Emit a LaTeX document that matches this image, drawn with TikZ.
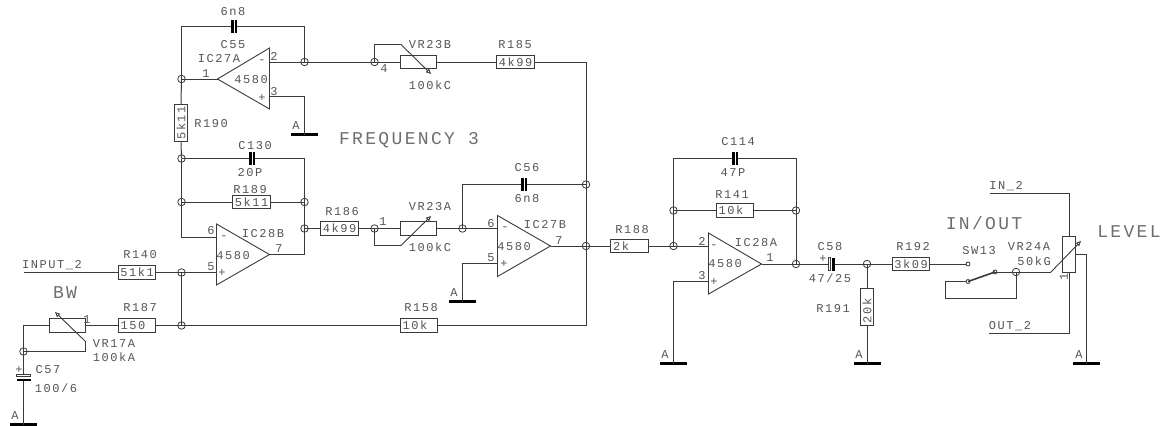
\documentclass[tikz,border=0pt]{standalone}
\usepackage{fontspec}
\usetikzlibrary{arrows.meta}
\setmainfont[LetterSpace=13]{Liberation Mono}
\definecolor{wirec}{HTML}{3A3A3A}
\definecolor{textc}{HTML}{555555}
\definecolor{bigc}{HTML}{6E6E6E}
\newcommand{\lbltxt}[1]{\makebox[35pt][l]{\hspace{1pt}#1}}
\tikzset{
  w/.style={line width=1pt,color=wirec},
  lab/.style={inner sep=0pt,text=textc,font=\fontsize{12}{12}\selectfont},
  big/.style={inner sep=0pt,text=bigc,font=\fontsize{18}{18}\selectfont},
  junc/.style={circle,draw=wirec,line width=.8pt,minimum size=7.5pt,inner sep=0pt},
  tiny/.style={circle,draw=wirec,line width=.8pt,minimum size=4pt,inner sep=0pt},
  res/.style={rectangle,draw=wirec,line width=1pt,fill=white,minimum width=37.5pt,minimum height=13.5pt,inner sep=0pt,text=textc,font=\fontsize{12}{12}\selectfont},
  capv/.style={rectangle,fill=black,minimum width=6.5pt,minimum height=13pt,inner sep=0pt,
     path picture={\draw[white,line width=.9pt] (path picture bounding box.north) -- (path picture bounding box.south);}},
  gndbar/.style={rectangle,fill=black,minimum width=27pt,minimum height=2.2pt,inner sep=0pt},
  amp/.style={line width=.9pt,color=wirec,line join=miter},
  wiper/.style={w,line width=.9pt,-{Triangle[open,length=5pt,width=4.5pt]}},
  plate/.style={rectangle,draw=wirec,fill=white,line width=.7pt,inner sep=0pt},
  blk/.style={rectangle,fill=black,inner sep=0pt}
}
\begin{document}
\begin{tikzpicture}[x=1pt,y=-1pt]
\useasboundingbox (0,0) rectangle (1163,426);
% junctions
\node[junc] (j1) at (181.5,79) {};
\node[junc] (j2) at (304.5,62) {};
\node[junc] (j3) at (374.5,62) {};
\node[junc] (j4) at (181.5,158.5) {};
\node[junc] (j5) at (181.5,202) {};
\node[junc] (j6) at (304.5,202) {};
\node[junc] (j7) at (304.5,228.5) {};
\node[junc] (j8) at (374.5,228.5) {};
\node[junc] (j9) at (462.5,228.5) {};
\node[junc] (j10) at (586,184.5) {};
\node[junc] (j11) at (586,246) {};
\node[junc] (j12) at (181.5,272.5) {};
\node[junc] (j13) at (181.5,325.5) {};
\node[junc] (j14) at (23.5,351.5) {};
\node[junc] (j15) at (673.5,246) {};
\node[junc] (j16) at (673.5,210.5) {};
\node[junc] (j17) at (796,210.5) {};
\node[junc] (j18) at (796,264) {};
\node[junc] (j19) at (867,264) {};
\node[junc] (j20) at (1016,272) {};
% resistors
\node[res,rotate=90] (r190) at (181,123) {5k11};
\node[res] (r189) at (251.5,202) {5k11};
\node[res] (r186) at (339.5,228.5) {4k99};
\node[res] (r185) at (515.5,62) {4k99};
\node[res] (r140) at (137,272.5) {51k1};
\node[res] (r187) at (137,325.5) {\lbltxt{150}};
\node[res] (r158) at (419,325.5) {\lbltxt{10k}};
\node[res] (r188) at (629.5,246) {\lbltxt{2k}};
\node[res] (r141) at (735,210.5) {\lbltxt{10k}};
\node[res] (r192) at (911,264) {3k09};
\node[res,rotate=90] (r191) at (867,307) {\lbltxt{20k}};
% pots
\node[res,minimum width=35.5pt] (vr23b) at (418.5,62) {};
\node[res,minimum width=35.5pt] (vr23a) at (418.5,228.5) {};
\node[res,minimum width=35.5pt] (vr17a) at (67.5,325.5) {};
\node[res,minimum width=35.5pt,minimum height=13pt,rotate=90] (vr24a) at (1069,254.5) {};
% caps
\node[capv] (c55) at (234,26.5) {};
\node[capv] (c130) at (252,158.5) {};
\node[capv] (c56) at (524,184.5) {};
\node[capv] (c114) at (735,158.5) {};
% op amp corners and pins
\coordinate (a1t) at (269.5,48); \coordinate (a1b) at (269.5,109); \coordinate (a1o) at (217.5,79);
\coordinate (a1m) at (269.5,62); \coordinate (a1p) at (269.5,96.5);
\coordinate (a2t) at (216.5,224); \coordinate (a2b) at (216.5,285); \coordinate (a2o) at (269.5,254.5);
\coordinate (a2m) at (216.5,237.5); \coordinate (a2p) at (216.5,272.5);
\coordinate (a3t) at (497.5,215.5); \coordinate (a3b) at (497.5,276.5); \coordinate (a3o) at (550.5,246);
\coordinate (a3m) at (497.5,228.5); \coordinate (a3p) at (497.5,263.5);
\coordinate (a4t) at (708.5,233); \coordinate (a4b) at (708.5,294); \coordinate (a4o) at (761.5,264);
\coordinate (a4m) at (708.5,246); \coordinate (a4p) at (708.5,281.5);
\draw[amp] (a1t) -- (a1b) -- (a1o) -- cycle;
\draw[amp] (a2t) -- (a2b) -- (a2o) -- cycle;
\draw[amp] (a3t) -- (a3b) -- (a3o) -- cycle;
\draw[amp] (a4t) -- (a4b) -- (a4o) -- cycle;
% grounds
\node[gndbar] (g1) at (304.5,134.5) {};
\node[gndbar] (g2) at (462.5,301.5) {};
\node[gndbar] (g3) at (673.5,363.5) {};
\node[gndbar] (g4) at (867,363.5) {};
\node[gndbar] (g5) at (1086.5,363.5) {};
\node[gndbar] (g6) at (23.5,424.5) {};
% free ends and bends
\coordinate (t1) at (181.5,26.5); \coordinate (t2) at (304.5,26.5);
\coordinate (t3) at (304.5,158.5);
\coordinate (t4) at (462.5,184.5);
\coordinate (t5) at (673.5,158.5); \coordinate (t6) at (796,158.5);
\coordinate (t7) at (586,62); \coordinate (t8) at (586,325.5);
\coordinate (inp) at (23.5,272.5);
\coordinate (bwl) at (23.5,325.5);
\coordinate (bwr) at (85,351.5); \coordinate (bwu) at (85,341);
\coordinate (vba) at (374.5,44.5); \coordinate (vbb) at (401,44.5);
\coordinate (vaa) at (374.5,245.5); \coordinate (vab) at (401,245.5);
\coordinate (in2) at (990,193.5); \coordinate (in2b) at (1069,193.5);
\coordinate (out2) at (989,333.5); \coordinate (out2b) at (1069,333.5);
\coordinate (vrw) at (1051,272);
\coordinate (vrx) at (1086.5,254.5);
\coordinate (sw1) at (945,281.5); \coordinate (sw2) at (945,298.5); \coordinate (sw3) at (1016,298.5);
\node[tiny] (swc) at (968,264) {};
\node[tiny] (swp) at (968,281.5) {};
\node[tiny] (swq) at (995,272) {};
% C58 / C57
\node[plate,minimum width=2.5pt,minimum height=13pt] (c58a) at (829.5,264) {};
\node[blk,minimum width=3pt,minimum height=13pt] (c58b) at (833.5,264) {};
\node[plate,minimum width=14pt,minimum height=2.4pt] (c57a) at (23.5,375.5) {};
\node[blk,minimum width=14pt,minimum height=2.2pt] (c57b) at (23.5,380) {};
% wires
\draw[w] (j1.center) -- (t1) -- (c55.west);
\draw[w] (c55.east) -- (t2) -- (j2.center);
\draw[w] (j1.center) -- (a1o);
\draw[w] (j2.center) -- (a1m);
\draw[w] (a1p) -| (g1.center);
\draw[w] (j2.center) -- (j3.center);
\draw[w] (j3.center) -- (vr23b.west);
\draw[w] (vr23b.east) -- (r185.west);
\draw[w] (r185.east) -- (t7) -- (j10.center);
\draw[w] (j1.center) -- (r190.east);
\draw[w] (r190.west) -- (j4.center);
\draw[w] (j4.center) -- (c130.west);
\draw[w] (c130.east) -- (t3) -- (j6.center);
\draw[w] (j4.center) -- (j5.center);
\draw[w] (j5.center) -- (r189.west);
\draw[w] (r189.east) -- (j6.center);
\draw[w] (j6.center) -- (j7.center);
\draw[w] (j7.center) |- (a2o);
\draw[w] (j5.center) |- (a2m);
\draw[w] (j7.center) -- (r186.west);
\draw[w] (r186.east) -- (j8.center);
\draw[w] (j8.center) -- (vaa) -- (vab);
\draw[w] (j3.center) -- (vba) -- (vbb);
\draw[wiper] (vbb) -- (431,74);
\draw[wiper] (vab) -- (431,216);
\draw[w] (j8.center) -- (vr23a.west);
\draw[w] (vr23a.east) -- (j9.center);
\draw[w] (j9.center) -- (a3m);
\draw[w] (j9.center) -- (t4) -- (c56.west);
\draw[w] (c56.east) -- (j10.center);
\draw[w] (a3p) -| (g2.center);
\draw[w] (a3o) -- (j11.center);
\draw[w] (j10.center) -- (j11.center);
\draw[w] (j11.center) -- (t8) -- (r158.east);
\draw[w] (r158.west) -- (j13.center);
\draw[w] (j13.center) -- (j12.center);
\draw[w] (j12.center) -- (a2p);
\draw[w] (inp) -- (r140.west);
\draw[w] (r140.east) -- (j12.center);
\draw[w] (j13.center) -- (r187.east);
\draw[w] (r187.west) -- (vr17a.east);
\draw[w] (vr17a.west) -- (bwl) -- (j14.center);
\draw[w] (j14.center) -- (bwr) -- (bwu);
\draw[wiper] (bwu) -- (55,312);
\draw[w] (j14.center) -- (c57a.north);
\draw[w] (c57b.south) -- (g6.center);
\draw[w] (j11.center) -- (r188.west);
\draw[w] (r188.east) -- (j15.center);
\draw[w] (j15.center) -- (a4m);
\draw[w] (j15.center) -- (j16.center);
\draw[w] (j16.center) -- (t5) -- (c114.west);
\draw[w] (c114.east) -- (t6) -- (j17.center);
\draw[w] (j16.center) -- (r141.west);
\draw[w] (r141.east) -- (j17.center);
\draw[w] (j17.center) -- (j18.center);
\draw[w] (a4o) -- (j18.center);
\draw[w] (a4p) -| (g3.center);
\draw[w] (j18.center) -- (c58a.west);
\draw[w] (c58b.east) -- (j19.center);
\draw[w] (j19.center) -- (r192.west);
\draw[w] (r192.east) -- (swc.west);
\draw[w] (j19.center) -- (r191.east);
\draw[w] (r191.west) -- (g4.center);
\draw[w,line width=1.6pt] (swp.center) -- (swq.center);
\draw[w] (swq.center) -- (j20.center);
\draw[w] (swp.west) -- (sw1) -- (sw2) -- (sw3) -- (j20.center);
\draw[w] (j20.center) -- (vrw);
\draw[wiper] (vrw) -- (1081,241);
\draw[w] (in2) -- (in2b) -- (vr24a.east);
\draw[w] (vr24a.west) -- (out2b) -- (out2);
\draw[w] (vrx) -- (g5.center);
\draw[w] (vrx) -- (vr24a.south);
% labels
\node[lab] (l1) at (233,12) {6n8};
\node[lab] (l2) at (233,45) {C55};
\node[lab] (l3) at (219,59) {IC27A};
\node[lab] (l4) at (206,74) {1};
\node[lab] (l5) at (274,56) {2};
\node[lab] (l6) at (274,92) {3};
\node[lab] (l7) at (262,62) {-};
\node[lab] (l8) at (262,98) {+};
\node[lab] (l9) at (251,80) {4580};
\node[lab] (l10) at (296,126) {A};
\node[lab] (l11) at (211,124) {R190};
\node[lab] (l12) at (255,146) {C130};
\node[lab] (l13) at (250,173) {20P};
\node[lab] (l14) at (250,190) {R189};
\node[lab] (l15) at (342,212) {R186};
\node[lab] (l16) at (430,207) {VR23A};
\node[lab] (l17) at (430,247) {100kC};
\node[lab] (l18) at (263,234) {IC28B};
\node[lab] (l19) at (211,231) {6};
\node[lab] (l20) at (211,267) {5};
\node[lab] (l21) at (279,249) {7};
\node[lab] (l22) at (224,238) {-};
\node[lab] (l23) at (222,273) {+};
\node[lab] (l24) at (233,256) {4580};
\node[lab] (l25) at (140,255) {R140};
\node[lab] (l26) at (140,308) {R187};
\node[lab] (l27) at (52,265) {INPUT\_2};
\node[big] (l28) at (65,293) {BW};
\node[lab] (l29) at (114,344) {VR17A};
\node[lab] (l30) at (114,357) {100kA};
\node[lab] (l31) at (48,370) {C57};
\node[lab] (l32) at (56,388) {100/6};
\node[lab] (l33) at (19,370) {+};
\node[lab] (l34) at (15,416) {A};
\node[lab] (l35) at (87,320) {1};
\node[lab] (l36) at (430,45) {VR23B};
\node[lab] (l37) at (430,85) {100kC};
\node[lab] (l38) at (384,69) {4};
\node[lab] (l39) at (515,45) {R185};
\node[big] (l40) at (409,140) {FREQUENCY 3};
\node[lab] (l41) at (527,168) {C56};
\node[lab] (l42) at (527,199) {6n8};
\node[lab] (l43) at (545,225) {IC27B};
\node[lab] (l44) at (491,224) {6};
\node[lab] (l45) at (491,258) {5};
\node[lab] (l46) at (559,241) {7};
\node[lab] (l47) at (514,247) {4580};
\node[lab] (l48) at (505,229) {-};
\node[lab] (l49) at (504,264) {+};
\node[lab] (l50) at (454,293) {A};
\node[lab] (l51) at (421,308) {R158};
\node[lab] (l52) at (632,230) {R188};
\node[lab] (l53) at (738,142) {C114};
\node[lab] (l54) at (733,173) {47P};
\node[lab] (l55) at (732,195) {R141};
\node[lab] (l56) at (756,243) {IC28A};
\node[lab] (l57) at (702,241) {2};
\node[lab] (l58) at (702,276) {3};
\node[lab] (l59) at (770,258) {1};
\node[lab] (l60) at (725,264) {4580};
\node[lab] (l61) at (714,247) {-};
\node[lab] (l62) at (714,282) {+};
\node[lab] (l63) at (665,355) {A};
\node[lab] (l64) at (830,247) {C58};
\node[lab] (l65) at (823,259) {+};
\node[lab] (l66) at (830,278) {47/25};
\node[lab] (l67) at (833,309) {R191};
\node[lab] (l68) at (859,355) {A};
\node[lab] (l69) at (913,247) {R192};
\node[lab] (l70) at (979,251) {SW13};
\node[big] (l71) at (984,223) {IN/OUT};
\node[lab] (l72) at (1029,246) {VR24A};
\node[lab] (l73) at (1034,261) {50kG};
\node[big] (l74) at (1129,232) {LEVEL};
\node[lab] (l75) at (1006,186) {IN\_2};
\node[lab] (l76) at (1010,326) {OUT\_2};
\node[lab,rotate=90] (l77) at (1064,277) {1};
\node[lab] (l78) at (1079,355) {A};
\node[lab] (l79) at (383,222) {1};
\end{tikzpicture}
\end{document}
